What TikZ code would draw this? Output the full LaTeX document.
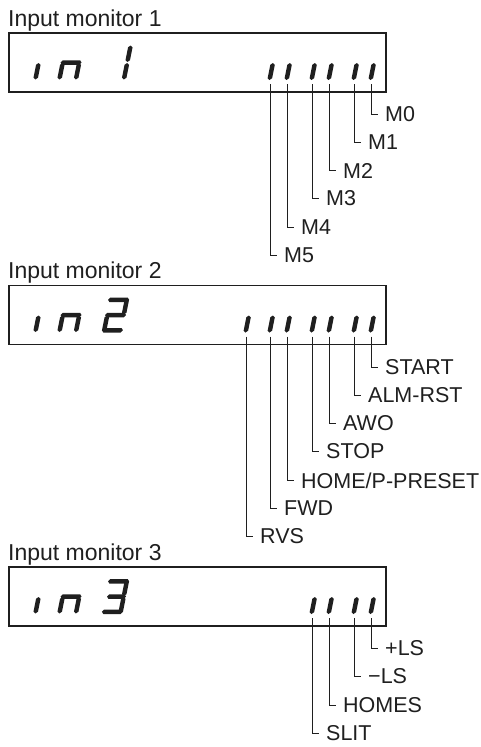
\documentclass[tikz,border=0pt]{standalone}
\usepackage{fontspec}
\setmainfont{Liberation Sans}

% slanted display segments, drawn inside a slanted scope
\newcommand{\vseg}[3]{\fill (#1,#2) -- (#1+2.25,#2+1.8) -- (#1+2.25,#3-1.8) -- (#1,#3)
  -- (#1-2.25,#3-1.8) -- (#1-2.25,#2+1.8) -- cycle;}
\newcommand{\hseg}[3]{\fill (#2,#1) -- (#2+1.8,#1+2.25) -- (#3-1.8,#1+2.25) -- (#3,#1)
  -- (#3-1.8,#1-2.25) -- (#2+1.8,#1-2.25) -- cycle;}

\tikzset{
  panel/.style = {draw, line width = 1.3pt},
  lead/.style = {line width = 1.2pt},
  lbl/.style = {anchor = west, inner xsep = 7pt, inner ysep = 0pt,
                font = \fontsize{21.5}{25}\selectfont},
  ttl/.style = {anchor = base west, inner sep = 0pt,
                font = \fontsize{23}{27}\selectfont}
}

\begin{document}
\begin{tikzpicture}[x = 1pt, y = 1pt, color = black!88]

\useasboundingbox (0, 0) rectangle (480, -747);

% ---- Input monitor 1
\node[ttl] (t1) at (8, -26) {Input monitor 1};
\draw[panel] (9, -33) rectangle (386, -92);

\begin{scope}[shift = {(0, -80)}, xslant = 0.2]
\vseg{35.25}{0.5}{17}
\hseg{17.5}{57}{78}
\vseg{59.25}{0.5}{17}
\vseg{75.75}{0.5}{17}
\vseg{123.75}{0.5}{17}
\vseg{123.75}{18}{34.5}
\vseg{269.5}{0}{17}
\vseg{286.5}{0}{17}
\vseg{311.5}{0}{17}
\vseg{328.5}{0}{17}
\vseg{353.5}{0}{17}
\vseg{370.5}{0}{17}
\end{scope}

\coordinate (m5) at (270.5, -84);
\coordinate (m4) at (287.5, -84);
\coordinate (m3) at (312.5, -84);
\coordinate (m2) at (329.5, -84);
\coordinate (m1) at (354.5, -84);
\coordinate (m0) at (371.5, -84);

\node[lbl] (lm0) at (378, -114.5) {M0};
\node[lbl] (lm1) at (361, -142.5) {M1};
\node[lbl] (lm2) at (336, -170.5) {M2};
\node[lbl] (lm3) at (319, -198.5) {M3};
\node[lbl] (lm4) at (294, -227.5) {M4};
\node[lbl] (lm5) at (277, -255.5) {M5};

\draw[lead] (m0) |- (lm0.west);
\draw[lead] (m1) |- (lm1.west);
\draw[lead] (m2) |- (lm2.west);
\draw[lead] (m3) |- (lm3.west);
\draw[lead] (m4) |- (lm4.west);
\draw[lead] (m5) |- (lm5.west);

% ---- Input monitor 2
\node[ttl] (t2) at (8, -278.5) {Input monitor 2};
\draw[panel] (9, -285.5) rectangle (386, -344.5);

\begin{scope}[shift = {(0, -332.5)}, xslant = 0.2]
\vseg{35.25}{0.5}{17}
\hseg{17.5}{57}{78}
\vseg{59.25}{0.5}{17}
\vseg{75.75}{0.5}{17}
\hseg{32.75}{101.5}{122.5}
\vseg{120.25}{18}{34.5}
\hseg{17.5}{101.5}{122.5}
\vseg{103.75}{0.5}{17}
\hseg{2.25}{101.5}{122.5}
\vseg{245.5}{0}{17}
\vseg{269.5}{0}{17}
\vseg{286.5}{0}{17}
\vseg{311.5}{0}{17}
\vseg{328.5}{0}{17}
\vseg{353.5}{0}{17}
\vseg{370.5}{0}{17}
\end{scope}

\coordinate (rvs) at (246.5, -336.5);
\coordinate (fwd) at (270.5, -336.5);
\coordinate (home) at (287.5, -336.5);
\coordinate (stop) at (312.5, -336.5);
\coordinate (awo) at (329.5, -336.5);
\coordinate (almrst) at (354.5, -336.5);
\coordinate (start) at (371.5, -336.5);

\node[lbl] (lstart) at (378, -367.5) {START};
\node[lbl] (lalmrst) at (361, -395.5) {ALM-RST};
\node[lbl] (lawo) at (336, -423.5) {AWO};
\node[lbl] (lstop) at (319, -451.5) {STOP};
\node[lbl] (lhome) at (294, -480.5) {HOME/P-PRESET};
\node[lbl] (lfwd) at (277, -508.5) {FWD};
\node[lbl] (lrvs) at (253, -536.5) {RVS};

\draw[lead] (start) |- (lstart.west);
\draw[lead] (almrst) |- (lalmrst.west);
\draw[lead] (awo) |- (lawo.west);
\draw[lead] (stop) |- (lstop.west);
\draw[lead] (home) |- (lhome.west);
\draw[lead] (fwd) |- (lfwd.west);
\draw[lead] (rvs) |- (lrvs.west);

% ---- Input monitor 3
\node[ttl] (t3) at (8, -560) {Input monitor 3};
\draw[panel] (9, -567) rectangle (386, -626);

\begin{scope}[shift = {(0, -614)}, xslant = 0.2]
\vseg{35.25}{0.5}{17}
\hseg{17.5}{57}{78}
\vseg{59.25}{0.5}{17}
\vseg{75.75}{0.5}{17}
\hseg{32.75}{101.5}{122.5}
\vseg{120.25}{18}{34.5}
\hseg{17.5}{103.5}{122.5}
\vseg{120.25}{0.5}{17}
\hseg{2.25}{101.5}{122.5}
\vseg{311.5}{0}{17}
\vseg{328.5}{0}{17}
\vseg{353.5}{0}{17}
\vseg{370.5}{0}{17}
\end{scope}

\coordinate (slit) at (312.5, -618);
\coordinate (homes) at (329.5, -618);
\coordinate (mls) at (354.5, -618);
\coordinate (pls) at (371.5, -618);

\node[lbl] (lpls) at (378, -648.5) {+LS};
\node[lbl] (lmls) at (361, -676.5) {−LS};
\node[lbl] (lhomes) at (336, -705.5) {HOMES};
\node[lbl] (lslit) at (319, -733.5) {SLIT};

\draw[lead] (pls) |- (lpls.west);
\draw[lead] (mls) |- (lmls.west);
\draw[lead] (homes) |- (lhomes.west);
\draw[lead] (slit) |- (lslit.west);

\end{tikzpicture}
\end{document}
